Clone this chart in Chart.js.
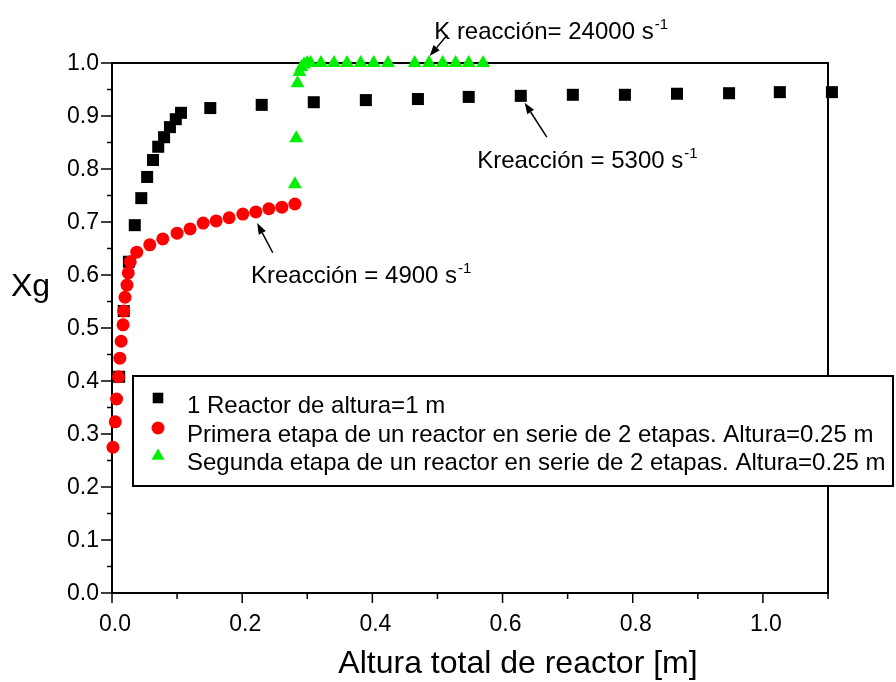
<!DOCTYPE html>
<html>
<head>
<meta charset="utf-8">
<script src="https://cdn.jsdelivr.net/npm/chart.js@4.4.1/dist/chart.umd.min.js"></script>
<style>
  html, body { margin: 0; padding: 0; background: #fff; }
</style>
</head>
<body>
<canvas id="xgChart" width="896" height="682"></canvas>
<script>
// values

// 1 reactor, altura 1 m (black squares)
const alturaReactor1 = [0.011, 0.018, 0.026, 0.035, 0.045, 0.054, 0.063, 0.071, 0.080, 0.089, 0.098, 0.106,
  0.151, 0.230, 0.310, 0.390, 0.470, 0.548, 0.628, 0.708, 0.788, 0.868, 0.948, 1.026, 1.106];
const xgReactor1 = [0.408, 0.532, 0.625, 0.694, 0.745, 0.785, 0.817, 0.842, 0.860, 0.879, 0.894, 0.906,
  0.915, 0.921, 0.926, 0.930, 0.932, 0.936, 0.938, 0.940, 0.940, 0.942, 0.943, 0.945, 0.945];

// primera etapa (red circles)
const alturaEtapa1 = [0.0015, 0.005, 0.007, 0.010, 0.012, 0.014, 0.017, 0.018, 0.020, 0.023, 0.025, 0.028,
  0.038, 0.058, 0.078, 0.100, 0.120, 0.140, 0.160, 0.180, 0.201, 0.221, 0.241, 0.261, 0.281];
const xgEtapa1 = [0.275, 0.323, 0.366, 0.408, 0.443, 0.475, 0.506, 0.532, 0.558, 0.581, 0.604, 0.625,
  0.643, 0.657, 0.668, 0.679, 0.687, 0.698, 0.702, 0.708, 0.715, 0.719, 0.725, 0.728, 0.734];

// segunda etapa (green triangles)
const alturaEtapa2 = [0.281, 0.283, 0.285, 0.288, 0.291, 0.295, 0.300, 0.305, 0.321, 0.341, 0.361, 0.382,
  0.402, 0.424, 0.465, 0.487, 0.508, 0.528, 0.548, 0.570];
const xgEtapa2 = [0.771, 0.858, 0.962, 0.983, 0.992, 0.997, 1.0, 1.0, 1.0, 1.0, 1.0, 1.0,
  1.0, 1.0, 1.0, 1.0, 1.0, 1.0, 1.0, 1.0];

const seriesLabels = [
  '1 Reactor de altura=1 m',
  'Primera etapa de un reactor en serie de 2 etapas. Altura=0.25 m',
  'Segunda etapa de un reactor en serie de 2 etapas. Altura=0.25 m'
];

const xTickValues = [0, 0.2, 0.4, 0.6, 0.8, 1.0];
const xTickLabels = ['0.0', '0.2', '0.4', '0.6', '0.8', '1.0'];
const yTickValues = [0, 0.1, 0.2, 0.3, 0.4, 0.5, 0.6, 0.7, 0.8, 0.9, 1.0];
const yTickLabels = ['0.0', '0.1', '0.2', '0.3', '0.4', '0.5', '0.6', '0.7', '0.8', '0.9', '1.0'];

const xTitle = 'Altura total de reactor [m]';
const yTitle = 'Xg';

// notes with arrows: text anchor, arrow tail, arrow head (data units)
const notes = [
  { text: 'K reacción= 24000 s', sup: '-1', at: [0.495, 1.045], tail: [0.515, 1.053], head: [0.488, 1.013] },
  { text: 'Kreacción = 5300 s', sup: '-1', at: [0.561, 0.802], tail: [0.668, 0.860], head: [0.634, 0.925] },
  { text: 'Kreacción = 4900 s', sup: '-1', at: [0.2135, 0.585], tail: [0.247, 0.642], head: [0.223, 0.698] }
];

const FONT = '"Liberation Sans", Arial, sans-serif';

function toPoints(xs, ys) {
  return xs.map((x, i) => ({ x: x, y: ys[i] }));
}

function line(ctx, x1, y1, x2, y2) {
  ctx.beginPath();
  ctx.moveTo(x1, y1);
  ctx.lineTo(x2, y2);
  ctx.stroke();
}

function arrow(ctx, x1, y1, x2, y2) {
  const ang = Math.atan2(y2 - y1, x2 - x1);
  const len = 11, half = 4;
  const bx = x2 - Math.cos(ang) * len, by = y2 - Math.sin(ang) * len;
  ctx.lineWidth = 1.5;
  line(ctx, x1, y1, bx, by);
  ctx.beginPath();
  ctx.moveTo(x2, y2);
  ctx.lineTo(bx + Math.sin(ang) * half, by - Math.cos(ang) * half);
  ctx.lineTo(bx - Math.sin(ang) * half, by + Math.cos(ang) * half);
  ctx.closePath();
  ctx.fill();
}

const frame = {
  id: 'frame',
  beforeDatasetsDraw(chart) {
    const { ctx, chartArea: a, scales: { x, y } } = chart;
    ctx.save();
    ctx.strokeStyle = '#000';
    ctx.fillStyle = '#000';
    ctx.lineWidth = 2;
    ctx.strokeRect(a.left, a.top, a.right - a.left, a.bottom - a.top);

    // y ticks, major every 0.1, minor between
    ctx.lineWidth = 1.5;
    for (let i = 0; i <= 20; i++) {
      const py = y.getPixelForValue(i * 0.05);
      line(ctx, a.left - (i % 2 ? 5 : 11), py, a.left, py);
    }
    // x ticks, major every 0.2, minor every 0.1
    for (let i = 0; i <= 11; i++) {
      const px = x.getPixelForValue(i * 0.1);
      line(ctx, px, a.bottom, px, a.bottom + (i % 2 ? 6 : 10));
    }

    ctx.font = '23px ' + FONT;
    ctx.textBaseline = 'middle';
    ctx.textAlign = 'right';
    yTickValues.forEach((v, i) => {
      ctx.fillText(yTickLabels[i], a.left - 13, y.getPixelForValue(v) + 1);
    });
    ctx.textBaseline = 'alphabetic';
    ctx.textAlign = 'center';
    xTickValues.forEach((v, i) => {
      ctx.fillText(xTickLabels[i], x.getPixelForValue(v) + 3, a.bottom + 38);
    });

    ctx.font = '32px ' + FONT;
    ctx.fillText(xTitle, 518, 673);
    ctx.textAlign = 'left';
    ctx.fillText(yTitle, 11, 296);
    ctx.restore();
  },
  afterDatasetsDraw(chart) {
    const { ctx, chartArea: a, scales: { x, y } } = chart;
    ctx.save();
    ctx.strokeStyle = '#000';
    ctx.fillStyle = '#000';

    // legend box
    const box = { left: a.left + 21, top: 376, right: 893, bottom: 486 };
    ctx.fillStyle = '#fff';
    ctx.fillRect(box.left, box.top, box.right - box.left, box.bottom - box.top);
    ctx.lineWidth = 2;
    ctx.strokeRect(box.left, box.top, box.right - box.left, box.bottom - box.top);

    const rowsY = [413, 442, 470];
    const markY = [398, 428, 456];
    ctx.font = '24px ' + FONT;
    ctx.textAlign = 'left';
    ctx.textBaseline = 'alphabetic';
    chart.data.datasets.forEach((ds, i) => {
      ctx.fillStyle = ds.backgroundColor;
      Chart.helpers.drawPoint(ctx, {
        pointStyle: ds.pointStyle, rotation: 0, borderWidth: 0,
        radius: ds.pointStyle === 'circle' ? 6.5 : 7.5
      }, box.left + 25, markY[i]);
      ctx.fillStyle = '#000';
      ctx.fillText(seriesLabels[i], box.left + 54, rowsY[i]);
    });

    // notes
    notes.forEach(n => {
      const tx = x.getPixelForValue(n.at[0]), ty = y.getPixelForValue(n.at[1]);
      ctx.font = '24px ' + FONT;
      ctx.fillStyle = '#000';
      ctx.fillText(n.text, tx, ty);
      const w = ctx.measureText(n.text).width;
      ctx.font = '15px ' + FONT;
      ctx.fillText(n.sup, tx + w + 1, ty - 10);
      arrow(ctx, x.getPixelForValue(n.tail[0]), y.getPixelForValue(n.tail[1]),
        x.getPixelForValue(n.head[0]), y.getPixelForValue(n.head[1]));
    });
    ctx.restore();
  }
};

const ctx = document.getElementById('xgChart').getContext('2d');
const xgChart = new Chart(ctx, {
  type: 'scatter',
  data: {
    datasets: [{
      label: seriesLabels[0],
      data: toPoints(alturaReactor1, xgReactor1),
      pointStyle: 'rect',
      pointRadius: 8.5,
      backgroundColor: '#000000',
      borderWidth: 0,
      clip: false,
      order: 3
    }, {
      label: seriesLabels[1],
      data: toPoints(alturaEtapa1, xgEtapa1),
      pointStyle: 'circle',
      pointRadius: 6.5,
      backgroundColor: '#ff0000',
      borderWidth: 0,
      clip: false,
      order: 2
    }, {
      label: seriesLabels[2],
      data: toPoints(alturaEtapa2, xgEtapa2),
      pointStyle: 'triangle',
      pointRadius: 8,
      backgroundColor: '#00f000',
      borderWidth: 0,
      clip: false,
      order: 1
    }]
  },
  options: {
    responsive: false,
    animation: false,
    layout: { padding: { left: 112, right: 68, top: 63, bottom: 89 } },
    scales: {
      x: { type: 'linear', min: 0, max: 1.1, display: false },
      y: { type: 'linear', min: 0, max: 1.0, display: false }
    },
    plugins: {
      legend: { display: false },
      tooltip: { enabled: false }
    }
  },
  plugins: [frame]
});
</script>
</body>
</html>
